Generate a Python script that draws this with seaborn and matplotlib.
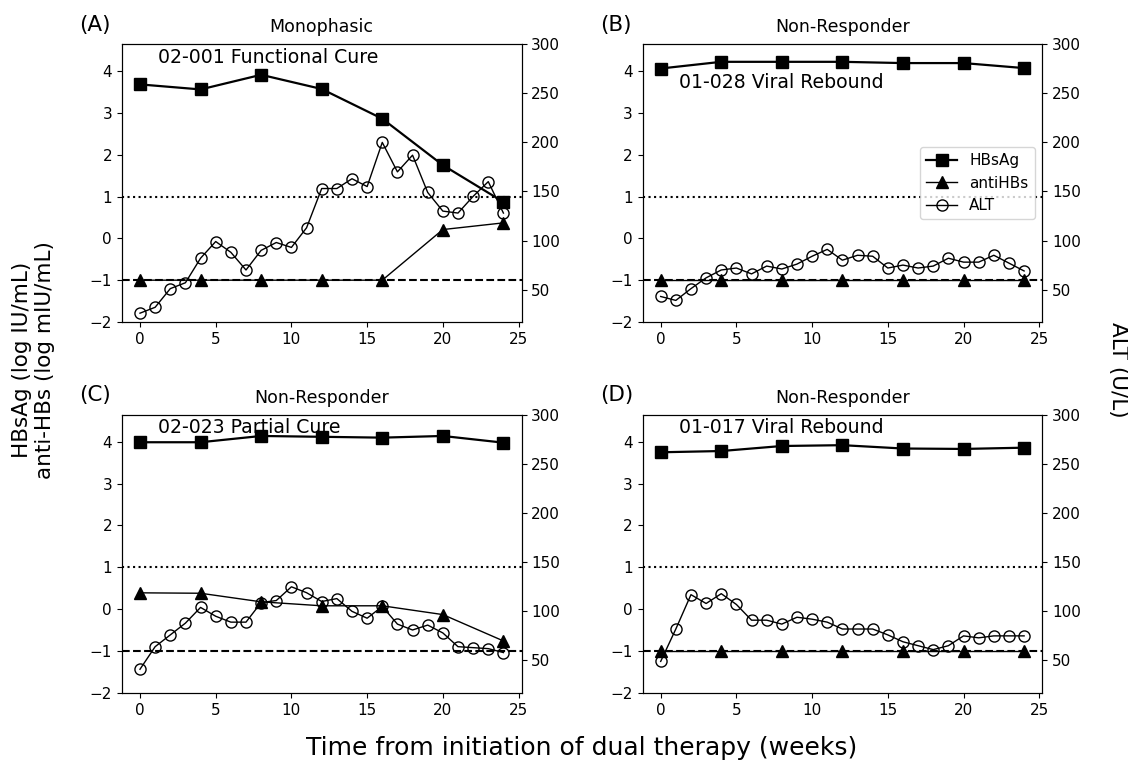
import matplotlib
matplotlib.use('Agg')
import matplotlib.pyplot as plt
import seaborn as sns
from matplotlib.lines import Line2D

# time points (weeks)
lab_weeks = [0, 4, 8, 12, 16, 20, 24]
alt_weeks = list(range(25))

panel_tags = ['(A)', '(B)', '(C)', '(D)']
panel_titles = ['Monophasic', 'Non-Responder', 'Non-Responder', 'Non-Responder']
patient_notes = ['02-001 Functional Cure', '01-028 Viral Rebound',
                 '02-023 Partial Cure', '01-017 Viral Rebound']
note_y = [4.2, 3.6, 4.2, 4.2]

# HBsAg (log IU/mL)
hbsag_a = [3.68, 3.56, 3.91, 3.57, 2.86, 1.75, 0.87]
hbsag_b = [4.06, 4.22, 4.22, 4.22, 4.19, 4.19, 4.07]
hbsag_c = [3.99, 3.99, 4.14, 4.12, 4.10, 4.14, 3.98]
hbsag_d = [3.75, 3.78, 3.90, 3.92, 3.84, 3.83, 3.86]

# anti-HBs (log mIU/mL)
antihbs_a = [-1, -1, -1, -1, -1, 0.21, 0.37]
antihbs_b = [-1, -1, -1, -1, -1, -1, -1]
antihbs_c = [0.39, 0.38, 0.175, 0.08, 0.08, -0.13, -0.76]
antihbs_d = [-1, -1, -1, -1, -1, -1, -1]

# ALT (U/L), weekly
alt_a = [26, 32, 51, 57, 82, 99, 88, 70, 90, 98, 93, 113, 153, 153, 163, 155,
         200, 170, 187, 149, 130, 128, 145, 160, 128]
alt_b = [43, 39, 51, 62, 70, 72, 66, 74, 71, 76, 84, 91, 80, 85, 84, 72,
         75, 72, 74, 82, 78, 78, 85, 77, 69]
alt_c = [41, 64, 76, 88, 104, 95, 89, 89, 109, 111, 125, 119, 110, 113, 100, 93,
         105, 87, 81, 86, 78, 64, 63, 62, 58]
alt_d = [49, 82, 117, 108, 118, 107, 91, 91, 87, 94, 92, 89, 82, 82, 82, 76,
         69, 65, 61, 65, 75, 73, 75, 75, 75]

hbsag_all = [hbsag_a, hbsag_b, hbsag_c, hbsag_d]
antihbs_all = [antihbs_a, antihbs_b, antihbs_c, antihbs_d]
alt_all = [alt_a, alt_b, alt_c, alt_d]

fig, axes = plt.subplots(2, 2, figsize=(11.28, 7.63), dpi=100)
fig.subplots_adjust(left=0.108, right=0.924, top=0.942, bottom=0.092,
                    wspace=0.3025, hspace=0.335)

for i, ax in enumerate(axes.flat):
    ax2 = ax.twinx()

    ax.axhline(1, color='k', ls=':', lw=1.5)
    ax.axhline(-1, color='k', ls='--', lw=1.5)

    sns.lineplot(x=lab_weeks, y=hbsag_all[i], ax=ax, color='k', lw=1.6,
                 marker='s', markersize=8, markeredgecolor='k', markeredgewidth=1)
    sns.lineplot(x=lab_weeks, y=antihbs_all[i], ax=ax, color='k', lw=1,
                 marker='^', markersize=9, markeredgecolor='k', markeredgewidth=1)
    sns.lineplot(x=alt_weeks, y=alt_all[i], ax=ax2, color='k', lw=1,
                 marker='o', markersize=8, markerfacecolor='none',
                 markeredgecolor='k', markeredgewidth=1)

    ax.set_ylim(-2, 4.64)
    ax.set_yticks(range(-2, 5))
    ax2.set_ylim(17, 300)
    ax2.set_yticks(range(50, 301, 50))
    ax.set_xticks(range(0, 26, 5))
    ax.tick_params(labelsize=11)
    ax2.tick_params(labelsize=11)
    ax.set_xlabel('')
    ax.set_ylabel('')
    ax2.set_ylabel('')

    ax.set_title(panel_titles[i], fontsize=12.5, pad=9)
    ax.text(-0.107, 1.035, panel_tags[i], transform=ax.transAxes,
            fontsize=15.5, ha='left', va='bottom')
    ax.text(1.2, note_y[i], patient_notes[i], fontsize=13.6, ha='left', va='baseline')

    if i == 1:
        handles = [
            Line2D([], [], color='k', lw=1.6, marker='s', markersize=8),
            Line2D([], [], color='k', lw=1, marker='^', markersize=9),
            Line2D([], [], color='k', lw=1, marker='o', markersize=8,
                   markerfacecolor='none'),
        ]
        ax2.legend(handles, ['HBsAg', 'antiHBs', 'ALT'], loc='center right',
                   fontsize=11)

fig.text(0.03, 0.528, 'HBsAg (log IU/mL)\nanti-HBs (log mIU/mL)', rotation=90,
         ha='center', va='center', fontsize=15.5)
fig.text(0.991, 0.515, 'ALT (U/L)', rotation=270, ha='center', va='center',
         fontsize=15.5)
fig.text(0.516, 0.02, 'Time from initiation of dual therapy (weeks)',
         ha='center', va='center', fontsize=18)

fig.savefig('out.png', dpi=100)
